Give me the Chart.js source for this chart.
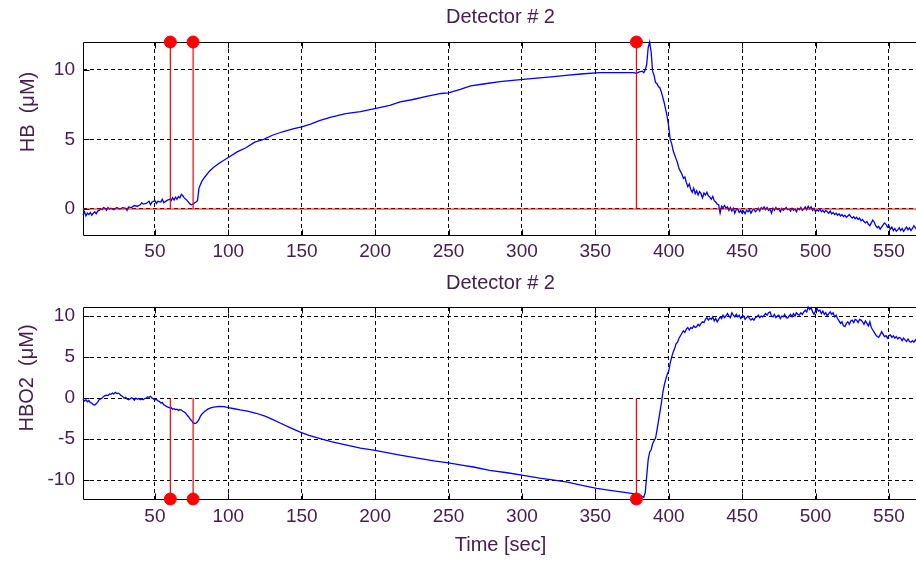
<!DOCTYPE html>
<html>
<head>
<meta charset="utf-8">
<script src="https://cdn.jsdelivr.net/npm/chart.js@4/dist/chart.umd.min.js"></script>
<style>
  html, body { margin: 0; padding: 0; background: #ffffff; overflow: hidden; width: 916px; height: 561px; }
  canvas { position: absolute; left: 0; display: block; }
  #c1 { top: 0; }
  #c2 { top: 270px; }
</style>
</head>
<body>
<canvas id="c1" width="918" height="270"></canvas>
<canvas id="c2" width="918" height="291"></canvas>
<script>
// ---------------- data ----------------
const xTicks = [50, 100, 150, 200, 250, 300, 350, 400, 450, 500, 550];
const hbTicks = [0, 5, 10];
const hbo2Ticks = [-10, -5, 0, 5, 10];
const timeRange = [1, 569.8];
const hbRange = [-1.87, 12.0];
const hbo2Range = [-12.3, 11.1];
const eventTimes = [60.5, 76, 378];

const hbSeries = [
[1,-0.45],[2,-0.2],[3,-0.5],[4,-0.3],[5,-0.4],[6,-0.25],[7,-0.45],[8,-0.3],[9,-0.2],[10,-0.35],
[11,-0.15],[12,-0.1],[13,0.0],[14,-0.05],[15,0.1],[16,0.05],[17,-0.1],[18,0.1],[19,0.0],[20,0.05],
[22,-0.05],[24,0.1],[26,0.0],[28,0.1],[30,0.05],[31,-0.1],[32,0.15],[34,0.1],[36,0.25],[38,0.2],
[40,0.3],[41,0.45],[42,0.35],[44,0.4],[46,0.55],[47,0.3],[48,0.5],[50,0.6],[51,0.4],[52,0.55],
[54,0.5],[55,0.7],[56,0.45],[58,0.6],[59,0.65],[60,0.7],[61,0.6],[62,0.8],[63,0.65],[64,0.85],
[65,0.7],[66,0.9],[67,0.8],[68,1.05],[69,0.95],[70,0.8],[72,0.6],[74,0.35],[75,0.3],[76,0.35],
[77,0.45],[78,0.5],[79,0.6],[80,1.5],[82,2.0],[84,2.3],[87,2.7],[90,3.0],[94,3.3],[100,3.7],
[106,4.1],[112,4.4],[118,4.8],[124,5.0],[130,5.3],[137,5.55],[144,5.75],[150,5.9],[156,6.1],[162,6.35],
[170,6.6],[180,6.85],[190,7.0],[199,7.2],[210,7.45],[217,7.7],[225,7.85],[235,8.1],[245,8.3],[250,8.35],
[258,8.6],[265,8.85],[275,9.0],[285,9.15],[299,9.3],[310,9.4],[320,9.5],[330,9.6],[340,9.7],[353,9.8],
[365,9.8],[376,9.8],[378,9.75],[380,9.85],[382,9.9],[383,9.8],[384,10.0],[385,10.4],[386,11.6],[387,12.0],
[388,11.3],[389,9.9],[390,9.6],[391,9.1],[392,9.0],[393,8.8],[394,8.7],[395,8.4],[396,8.0],[397,7.6],
[398,7.1],[399,6.6],[400,5.9],[401,5.0],[402,4.7],[403,4.2],[404,3.9],[405,3.6],[406,3.3],[407,2.9],
[408,2.7],[409,2.5],[410,2.2],[411,2.3],[412,1.9],[413,1.6],[414,1.8],[415,1.4],[416,1.2],[417,1.5],
[418,1.1],[419,1.3],[420,1.0],[421,1.25],[422,1.1],[423,0.8],[424,1.15],[425,1.0],[426,1.2],[427,0.95],
[428,0.85],[429,0.7],[430,0.9],[431,0.6],[432,0.5],[433,0.35],[434,0.3],[435,-0.3],[436,0.2],[437,0.1],
[438,0.25],[439,0.05],[440,0.15],[441,-0.1],[442,0.1],[443,-0.15],[444,0.05],[445,-0.3],[446,-0.05],[447,0.0],
[448,-0.25],[449,-0.1],[450,-0.3],[451,-0.15],[452,-0.35],[453,-0.1],[454,-0.2],[455,-0.05],[456,-0.3],[457,-0.1],
[458,0.0],[459,-0.2],[460,-0.1],[461,0.05],[462,-0.15],[463,0.1],[464,0.0],[465,0.15],[466,-0.05],[467,0.1],
[468,-0.1],[469,0.0],[470,-0.3],[471,0.05],[472,-0.1],[473,0.1],[474,-0.05],[475,0.0],[476,-0.2],[477,0.05],
[478,-0.1],[479,0.0],[480,0.1],[481,-0.05],[482,0.0],[483,-0.15],[484,0.05],[485,-0.1],[486,0.0],[487,-0.2],
[488,0.05],[489,-0.05],[490,0.1],[491,-0.1],[492,0.0],[493,0.15],[494,-0.05],[495,0.2],[496,0.0],[497,0.15],
[498,-0.1],[499,0.05],[500,-0.2],[501,-0.05],[502,-0.15],[503,0.0],[504,-0.2],[505,-0.1],[506,-0.25],[507,-0.1],
[508,-0.2],[509,-0.3],[510,-0.15],[511,-0.35],[512,-0.25],[513,-0.4],[514,-0.3],[515,-0.45],[516,-0.35],[517,-0.5],
[518,-0.4],[519,-0.55],[520,-0.45],[521,-0.6],[522,-0.5],[523,-0.4],[524,-0.55],[525,-0.65],[526,-0.55],[527,-0.7],
[528,-0.6],[529,-0.75],[530,-0.65],[531,-0.85],[532,-0.75],[533,-0.9],[534,-1.0],[535,-0.9],[536,-1.1],[537,-1.2],
[538,-1.0],[539,-0.8],[540,-0.95],[541,-1.2],[542,-1.35],[543,-1.25],[544,-1.45],[545,-1.3],[546,-1.15],[547,-1.0],
[548,-1.1],[549,-1.3],[550,-1.2],[551,-1.45],[552,-1.3],[553,-1.55],[554,-1.4],[555,-1.6],[556,-1.5],[557,-1.35],
[558,-1.55],[559,-1.4],[560,-1.6],[561,-1.45],[562,-1.3],[563,-1.5],[564,-1.35],[565,-1.55],[566,-1.4],[567,-1.2],
[568,-1.35],[569,-1.5]
];

const hbo2Series = [
[1,-0.1],[2,-0.35],[3,-0.2],[4,-0.45],[5,-0.3],[6,-0.55],[7,-0.6],[8,-0.8],[9,-0.85],[10,-0.7],
[11,-0.5],[12,-0.2],[13,-0.1],[14,0.0],[15,0.2],[16,0.3],[17,0.35],[18,0.3],[19,0.5],[20,0.45],
[21,0.6],[22,0.5],[23,0.7],[24,0.55],[25,0.6],[26,0.5],[27,0.3],[28,0.2],[29,0.0],[30,0.1],
[31,-0.1],[32,-0.2],[33,-0.1],[34,0.05],[35,-0.05],[36,-0.25],[37,0.0],[38,-0.15],[39,-0.05],[40,-0.2],
[41,-0.1],[42,-0.2],[43,-0.05],[44,0.0],[45,0.15],[46,0.1],[47,0.2],[48,0.0],[49,-0.1],[50,-0.2],
[51,-0.15],[52,-0.35],[53,-0.4],[54,-0.6],[55,-0.55],[56,-0.8],[57,-0.9],[58,-1.05],[59,-1.1],[60,-1.2],
[61,-1.15],[62,-1.35],[63,-1.3],[64,-1.4],[65,-1.35],[66,-1.5],[67,-1.4],[68,-1.45],[69,-1.6],[70,-1.7],
[71,-1.85],[72,-2.1],[73,-2.3],[74,-2.55],[75,-2.75],[76,-3.0],[77,-3.1],[78,-3.05],[79,-2.9],[80,-2.6],
[81,-2.2],[82,-1.95],[84,-1.6],[86,-1.35],[88,-1.2],[90,-1.1],[94,-1.0],[97,-1.05],[100,-1.15],[104,-1.3],
[108,-1.45],[113,-1.6],[119,-1.85],[125,-2.2],[130,-2.6],[136,-3.1],[142,-3.6],[149,-4.15],[155,-4.55],[162,-4.9],
[170,-5.3],[180,-5.7],[190,-6.1],[199,-6.35],[208,-6.65],[217,-6.95],[228,-7.3],[240,-7.65],[250,-7.9],[260,-8.2],
[267,-8.4],[278,-8.8],[290,-9.1],[300,-9.4],[312,-9.75],[322,-10.0],[331,-10.25],[341,-10.65],[351,-11.0],[360,-11.25],
[370,-11.5],[378,-11.7],[381,-11.9],[383,-12.1],[384,-11.5],[385,-9.5],[386,-7.5],[387,-6.6],[388,-6.3],[389,-5.6],
[390,-5.2],[391,-4.9],[392,-3.9],[393,-2.8],[394,-1.7],[395,-0.6],[396,0.7],[397,1.6],[398,2.3],[399,2.9],
[400,3.3],[401,4.3],[402,5.0],[403,5.6],[404,6.0],[405,6.6],[406,6.8],[407,7.3],[408,7.6],[409,7.9],
[410,8.2],[411,8.0],[412,8.4],[413,8.6],[414,8.3],[415,8.6],[416,8.5],[417,8.8],[418,8.6],[419,8.7],
[420,9.0],[421,8.8],[422,9.1],[423,9.3],[424,9.2],[425,9.6],[426,9.8],[427,9.5],[428,9.75],[429,9.6],
[430,9.9],[431,9.4],[432,9.7],[433,9.3],[434,9.6],[435,9.9],[436,9.7],[437,10.1],[438,9.8],[439,10.0],
[440,10.3],[441,10.0],[442,9.8],[443,10.4],[444,10.1],[445,9.9],[446,10.2],[447,9.9],[448,10.1],[449,9.7],
[450,9.9],[451,10.0],[452,9.6],[453,9.8],[454,10.0],[455,9.7],[456,9.5],[457,9.7],[458,9.5],[459,9.8],
[460,9.9],[461,10.1],[462,9.8],[463,10.0],[464,9.9],[465,10.1],[466,10.3],[467,10.1],[468,10.4],[469,10.5],
[470,10.0],[471,9.9],[472,10.2],[473,9.8],[474,10.0],[475,10.1],[476,9.7],[477,10.0],[478,9.9],[479,10.2],
[480,9.8],[481,9.75],[482,10.0],[483,10.2],[484,9.9],[485,10.3],[486,10.0],[487,10.4],[488,10.2],[489,10.1],
[490,10.4],[491,10.2],[492,10.5],[493,10.7],[494,10.5],[495,11.1],[496,10.8],[497,11.0],[498,10.5],[499,10.2],
[500,10.6],[501,10.9],[502,10.6],[503,10.7],[504,10.3],[505,10.6],[506,10.2],[507,10.4],[508,10.0],[509,10.3],
[510,10.5],[511,10.2],[512,10.4],[513,9.9],[514,10.1],[515,9.7],[516,9.4],[517,9.1],[518,9.3],[519,8.8],
[520,8.7],[521,9.1],[522,9.3],[523,9.0],[524,9.4],[525,9.5],[526,9.2],[527,9.6],[528,9.5],[529,9.2],
[530,9.6],[531,9.5],[532,9.3],[533,9.0],[534,9.4],[535,9.1],[536,8.8],[537,9.3],[538,8.6],[539,8.3],
[540,8.0],[541,7.7],[542,7.5],[543,7.4],[544,7.7],[545,8.1],[546,7.8],[547,7.5],[548,7.6],[549,7.3],
[550,7.6],[551,7.7],[552,7.4],[553,7.6],[554,7.3],[555,7.5],[556,7.2],[557,7.4],[558,7.3],[559,7.0],
[560,7.3],[561,7.1],[562,6.9],[563,7.2],[564,6.9],[565,6.8],[566,7.0],[567,6.8],[568,7.1],[569,6.9]
];

// ---------------- styling ----------------
const TEXT = '#45204f';
const FONT = "'Liberation Sans', Arial, sans-serif";
const BLUE = '#0000ff';
const RED = '#ff0000';

function toXY(arr) { return arr.map(p => ({ x: p[0], y: p[1] })); }

function stemData(times, tipY) {
  const out = [];
  times.forEach((t, i) => {
    if (i > 0) out.push({ x: t, y: null });
    out.push({ x: t, y: 0 });
    out.push({ x: t, y: tipY });
  });
  return out;
}

const framePlugin = {
  id: 'frame',
  beforeDatasetsDraw(chart) {
    const { ctx, chartArea: a, scales } = chart;
    ctx.save();
    ctx.strokeStyle = '#000';
    ctx.lineWidth = 1;
    const L = Math.round(a.left) + 0.5, R = Math.round(a.right) + 0.5;
    const T = Math.round(a.top) + 0.5, B = Math.round(a.bottom) + 0.5;
    ctx.setLineDash([]);
    ctx.beginPath();
    ctx.moveTo(L, T); ctx.lineTo(R, T); ctx.lineTo(R, B); ctx.lineTo(L, B); ctx.closePath();
    ctx.stroke();
    ctx.beginPath();
    scales.x.ticks.forEach(tk => {
      const px = Math.round(scales.x.getPixelForValue(tk.value)) + 0.5;
      ctx.moveTo(px, B); ctx.lineTo(px, B - 6);
      ctx.moveTo(px, T); ctx.lineTo(px, T + 6);
    });
    scales.y.ticks.forEach(tk => {
      const py = Math.round(scales.y.getPixelForValue(tk.value)) + 0.5;
      ctx.moveTo(L, py); ctx.lineTo(L + 6, py);
    });
    ctx.stroke();
    ctx.restore();
  },
  afterDraw(chart, args, opts) {
    if (!opts.ylabel) return;
    const ctx = chart.ctx;
    ctx.save();
    ctx.fillStyle = TEXT;
    ctx.font = "20px " + FONT;
    ctx.textAlign = 'center';
    ctx.textBaseline = 'middle';
    ctx.translate(opts.ylabelX, opts.ylabelY);
    ctx.rotate(-Math.PI / 2);
    ctx.fillText(opts.ylabel, 0, 0);
    ctx.restore();
  }
};

function makeChart(canvasId, cfg) {
  const fixedTicks = vals => (scale) => { scale.ticks = vals.map(v => ({ value: v })); };
  return new Chart(document.getElementById(canvasId), {
    type: 'line',
    data: { datasets: cfg.datasets },
    options: {
      responsive: false,
      devicePixelRatio: 1,
      animation: false,
      events: [],
      layout: { padding: 0, autoPadding: false },
      elements: { point: { radius: 0, hoverRadius: 0 }, line: { tension: 0, borderWidth: 1 } },
      plugins: {
        legend: { display: false },
        tooltip: { enabled: false },
        title: {
          display: true, text: 'Detector # 2', fullSize: false, color: TEXT,
          font: { family: FONT, size: 20, weight: 'normal', lineHeight: 1.2 },
          padding: cfg.titlePadding
        },
        frame: { ylabel: cfg.ylabel, ylabelX: cfg.ylabelX, ylabelY: cfg.ylabelY }
      },
      scales: {
        x: {
          type: 'linear', min: timeRange[0], max: timeRange[1],
          afterBuildTicks: fixedTicks(xTicks),
          afterFit(s) { s.height = cfg.xHeight; s.paddingLeft = 0; s.paddingRight = 0; },
          grid: { color: '#000', lineWidth: 1, drawTicks: false },
          border: { display: false, dash: [4, 3] },
          ticks: { color: TEXT, padding: cfg.xTickPad, maxRotation: 0, autoSkip: false,
                   font: { family: FONT, size: 19 } },
          title: cfg.xTitle ? { display: true, text: cfg.xTitle, color: TEXT,
                   font: { family: FONT, size: 20, lineHeight: 1.2 }, padding: cfg.xTitlePad } : { display: false }
        },
        y: {
          type: 'linear', min: cfg.yRange[0], max: cfg.yRange[1],
          afterBuildTicks: fixedTicks(cfg.yTicks),
          afterFit(s) { s.width = 83; s.paddingTop = 0; s.paddingBottom = 0; },
          grid: { color: '#000', lineWidth: 1, drawTicks: false },
          border: { display: false, dash: [4, 3] },
          ticks: { color: TEXT, padding: 8, font: { family: FONT, size: 19 } }
        }
      }
    },
    plugins: [framePlugin]
  });
}

// top: HB
makeChart('c1', {
  yRange: hbRange, yTicks: hbTicks, xHeight: 35, xTickPad: 5,
  titlePadding: { top: 5, bottom: 13 },
  ylabel: 'HB  (μM)', ylabelX: 28, ylabelY: 112,
  datasets: [
    { label: 'events', data: stemData(eventTimes, hbRange[1]), borderColor: RED, borderWidth: 1.2,
      spanGaps: false, clip: false, order: 0, pointRadius: 0 },
    { label: 'markers', data: eventTimes.map(t => ({ x: t, y: hbRange[1] })), showLine: false,
      pointRadius: 6, pointStyle: 'circle', pointBackgroundColor: RED, pointBorderColor: RED,
      pointBorderWidth: 1, clip: false, order: 0 },
    { label: 'zero', data: [{ x: timeRange[0], y: 0 }, { x: timeRange[1], y: 0 }],
      borderColor: RED, borderWidth: 1.2, order: 1 },
    { label: 'HB', data: toXY(hbSeries), borderColor: BLUE, borderWidth: 1.3, clip: false, order: 2 }
  ]
});

// bottom: HBO2
makeChart('c2', {
  yRange: hbo2Range, yTicks: hbo2Ticks, xHeight: 62, xTickPad: 6.6,
  xTitle: 'Time [sec]', xTitlePad: { top: 4, bottom: 4 },
  titlePadding: { top: 1, bottom: 12 },
  ylabel: 'HBO2  (μM)', ylabelX: 27, ylabelY: 108,
  datasets: [
    { label: 'events', data: stemData(eventTimes, hbo2Range[0]), borderColor: RED, borderWidth: 1.2,
      spanGaps: false, clip: false, order: 0, pointRadius: 0 },
    { label: 'markers', data: eventTimes.map(t => ({ x: t, y: hbo2Range[0] })), showLine: false,
      pointRadius: 6, pointStyle: 'circle', pointBackgroundColor: RED, pointBorderColor: RED,
      pointBorderWidth: 1, clip: false, order: 0 },
    { label: 'HBO2', data: toXY(hbo2Series), borderColor: BLUE, borderWidth: 1.3, clip: false, order: 2 }
  ]
});
</script>
</body>
</html>
